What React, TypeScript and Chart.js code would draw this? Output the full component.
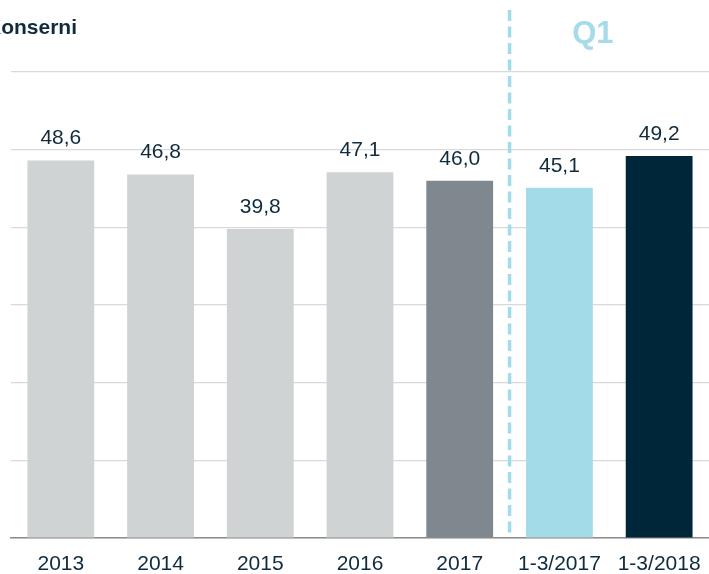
import React, { useEffect, useRef } from "react";
import { Chart, registerables } from "chart.js";

Chart.register(...registerables);

const categories = ["2013", "2014", "2015", "2016", "2017", "1-3/2017", "1-3/2018"];
const values = [48.6, 46.8, 39.8, 47.1, 46.0, 45.1, 49.2];
const barColors = ["#d0d3d4", "#d0d3d4", "#d0d3d4", "#d0d3d4", "#7f888e", "#a4dbe8", "#00263a"];
const titleText = "Konserni";
const periodLabel = "Q1";
const dividerAfterIndex = 4;

const textColor = "#0f2b3d";
const fontFamily = "'Liberation Sans', Arial, sans-serif";

const overlayPlugin = {
  id: "overlay",
  afterDatasetsDraw(chart: any) {
    const ctx = chart.ctx;
    const meta = chart.getDatasetMeta(0);
    ctx.save();
    ctx.font = `21px ${fontFamily}`;
    ctx.fillStyle = textColor;
    ctx.textAlign = "center";
    ctx.textBaseline = "middle";
    meta.data.forEach((bar: any, i: number) => {
      const label = values[i].toFixed(1).replace(".", ",");
      ctx.fillText(label, bar.x, bar.y - 22);
    });
    // divider dashed line
    const xs = chart.scales.x;
    const p4 = xs.getPixelForValue(dividerAfterIndex);
    const p5 = xs.getPixelForValue(dividerAfterIndex + 1);
    const p6 = xs.getPixelForValue(dividerAfterIndex + 2);
    const xDiv = (p4 + p5) / 2;
    ctx.strokeStyle = "#a4dbe8";
    ctx.lineWidth = 3.5;
    ctx.setLineDash([11, 5.5]);
    ctx.beginPath();
    ctx.moveTo(xDiv, 10);
    ctx.lineTo(xDiv, chart.chartArea.bottom);
    ctx.stroke();
    ctx.setLineDash([]);
    // Q1 label
    const xQ = p5 + 0.335 * (p6 - p5);
    ctx.font = `bold 31px ${fontFamily}`;
    ctx.fillStyle = "#a6dce9";
    ctx.textAlign = "center";
    ctx.textBaseline = "middle";
    ctx.fillText(periodLabel, xQ, 34);
    // title (clipped at left)
    ctx.font = `bold 21px ${fontFamily}`;
    ctx.fillStyle = textColor;
    ctx.textAlign = "right";
    ctx.textBaseline = "middle";
    ctx.fillText(titleText, 77, 28);
    ctx.restore();
  },
};

export default function App() {
  const ref = useRef<HTMLCanvasElement | null>(null);
  useEffect(() => {
    document.body.style.margin = "0";
    document.body.style.overflow = "hidden";
    if (!ref.current) return;
    const chart = new Chart(ref.current, {
      type: "bar",
      data: {
        labels: categories,
        datasets: [
          {
            data: values,
            backgroundColor: barColors,
            borderWidth: 0,
            barPercentage: 0.67,
            categoryPercentage: 1,
          },
        ],
      },
      options: {
        animation: false,
        responsive: false,
        maintainAspectRatio: false,
        layout: { padding: { left: 11, top: 72, right: 0, bottom: -16 } },
        plugins: { legend: { display: false }, tooltip: { enabled: false }, title: { display: false } },
        scales: {
          x: {
            grid: { display: false, drawTicks: false },
            border: { display: true, color: "#8c8c8c", width: 1.5 },
            ticks: {
              color: textColor,
              font: { family: fontFamily, size: 21, lineHeight: 52 / 21 },
              padding: 0,
              maxRotation: 0,
              autoSkip: false,
            },
          },
          y: {
            min: 0,
            max: 60,
            ticks: { display: false, stepSize: 10 },
            grid: { color: "#d9d9d9", lineWidth: 1.2, drawTicks: false },
            border: { display: false },
          },
        },
      },
      plugins: [overlayPlugin],
    });
    return () => chart.destroy();
  }, []);
  return (
    <div style={{ position: "fixed", left: 0, top: 0, width: 709, height: 574, overflow: "hidden" }}>
      <canvas ref={ref} width={709} height={574} style={{ display: "block", width: 709, height: 574 }} />
    </div>
  );
}
